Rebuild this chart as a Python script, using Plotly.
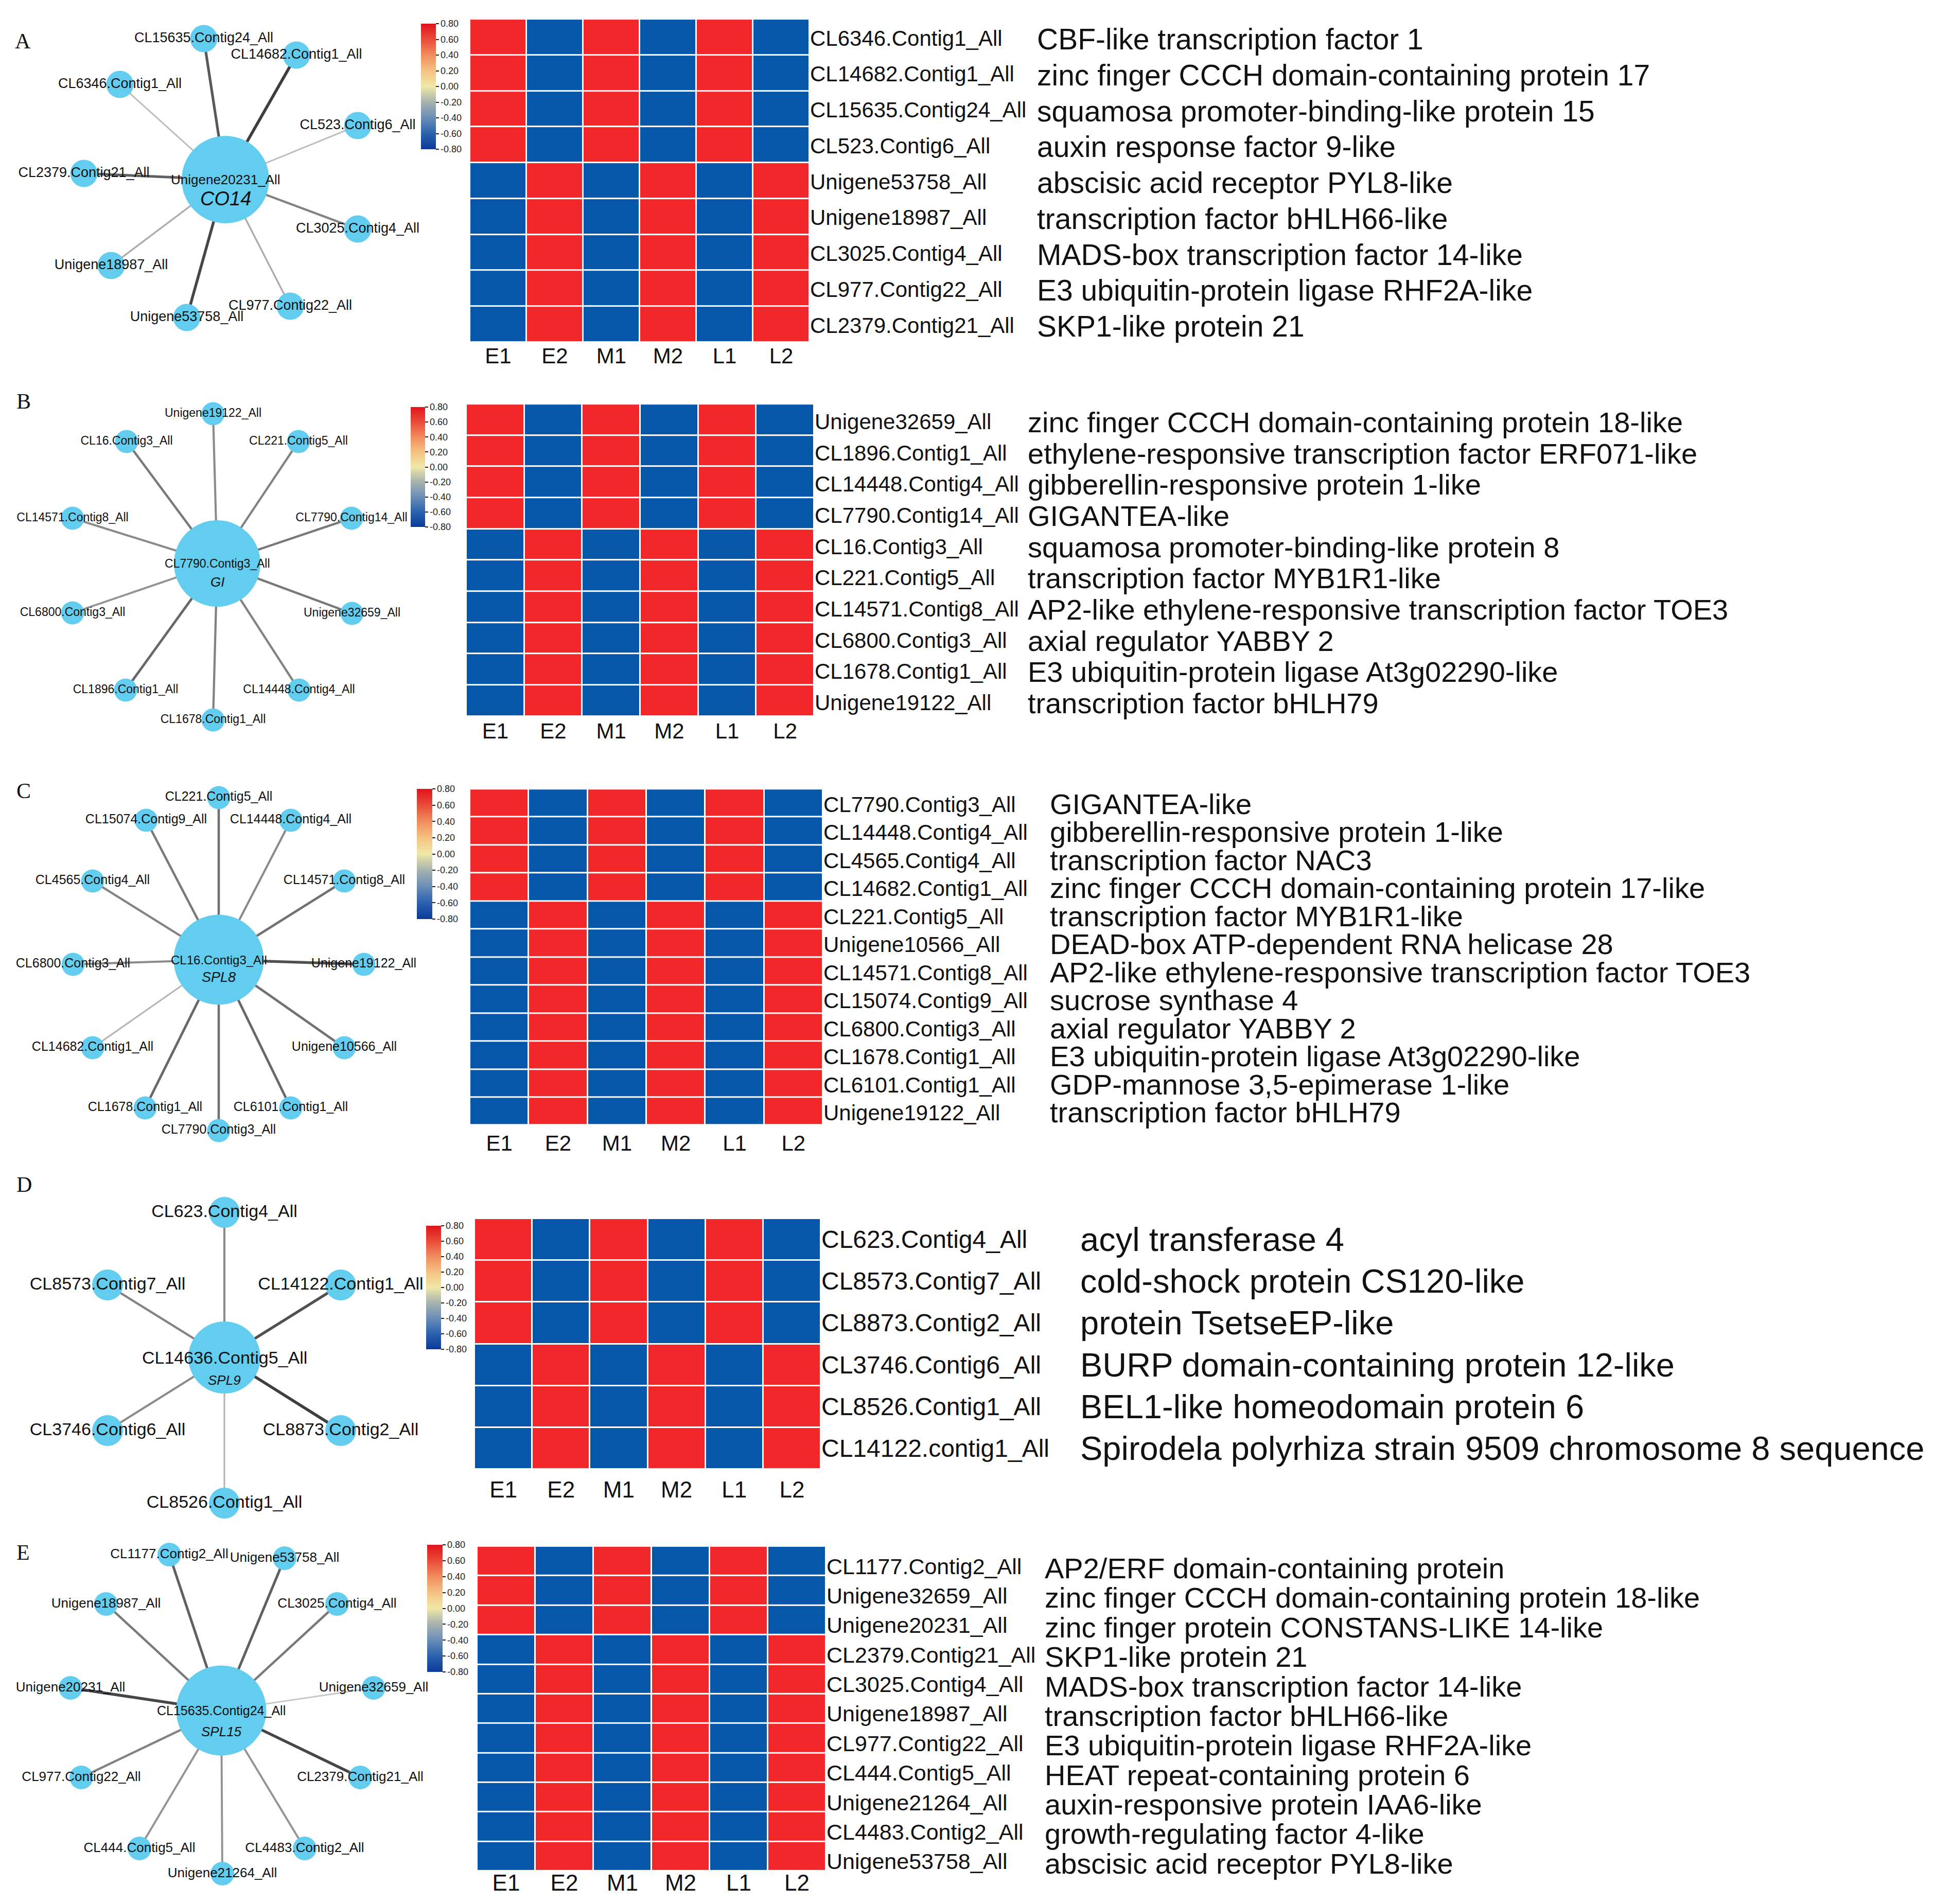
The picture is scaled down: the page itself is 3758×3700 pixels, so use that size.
import plotly.graph_objects as go

W, H = 3758, 3700
STAGES = ["E1", "E2", "M1", "M2", "L1", "L2"]
CB_TICKVALS = [0.8, 0.6, 0.4, 0.2, 0.0, -0.2, -0.4, -0.6, -0.8]
CB_TICKTEXT = ["0.80", "0.60", "0.40", "0.20", "0.00", "-0.20", "-0.40", "-0.60", "-0.80"]

# ---------------- Panel A (CO14) ----------------
A_GENES = ["CL6346.Contig1_All", "CL14682.Contig1_All", "CL15635.Contig24_All", "CL523.Contig6_All",
           "Unigene53758_All", "Unigene18987_All", "CL3025.Contig4_All", "CL977.Contig22_All",
           "CL2379.Contig21_All"]
A_DESC = ["CBF-like transcription factor 1", "zinc finger CCCH domain-containing protein 17",
          "squamosa promoter-binding-like protein 15", "auxin response factor 9-like",
          "abscisic acid receptor PYL8-like", "transcription factor bHLH66-like",
          "MADS-box transcription factor 14-like", "E3 ubiquitin-protein ligase RHF2A-like",
          "SKP1-like protein 21"]
A_Z = [[0.8, -0.8, 0.8, -0.8, 0.8, -0.8],
       [0.8, -0.8, 0.8, -0.8, 0.8, -0.8],
       [0.8, -0.8, 0.8, -0.8, 0.8, -0.8],
       [0.8, -0.8, 0.8, -0.8, 0.8, -0.8],
       [-0.8, 0.8, -0.8, 0.8, -0.8, 0.8],
       [-0.8, 0.8, -0.8, 0.8, -0.8, 0.8],
       [-0.8, 0.8, -0.8, 0.8, -0.8, 0.8],
       [-0.8, 0.8, -0.8, 0.8, -0.8, 0.8],
       [-0.8, 0.8, -0.8, 0.8, -0.8, 0.8]]
A_HUB_ID = "Unigene20231_All"
A_HUB_NAME = "CO14"
A_LEAVES = ["CL15635.Contig24_All", "CL14682.Contig1_All", "CL6346.Contig1_All", "CL523.Contig6_All",
            "CL2379.Contig21_All", "CL3025.Contig4_All", "Unigene18987_All", "CL977.Contig22_All",
            "Unigene53758_All"]
A_LEAF_DX = [-42, 138, -205, 257, -275, 257, -222, 126, -75]
A_LEAF_DY = [-274, -242, -185, -105, -12, 96, 167, 246, 268]
A_EDGE_W = [0.75, 0.9, 0.15, 0.15, 0.7, 0.5, 0.25, 0.25, 0.85]

# ---------------- Panel B (GI) ----------------
B_GENES = ["Unigene32659_All", "CL1896.Contig1_All", "CL14448.Contig4_All", "CL7790.Contig14_All",
           "CL16.Contig3_All", "CL221.Contig5_All", "CL14571.Contig8_All", "CL6800.Contig3_All",
           "CL1678.Contig1_All", "Unigene19122_All"]
B_DESC = ["zinc finger CCCH domain-containing protein 18-like",
          "ethylene-responsive transcription factor ERF071-like",
          "gibberellin-responsive protein 1-like", "GIGANTEA-like",
          "squamosa promoter-binding-like protein 8", "transcription factor MYB1R1-like",
          "AP2-like ethylene-responsive transcription factor TOE3", "axial regulator YABBY 2",
          "E3 ubiquitin-protein ligase At3g02290-like", "transcription factor bHLH79"]
B_Z = [[0.8, -0.8, 0.8, -0.8, 0.8, -0.8],
       [0.8, -0.8, 0.8, -0.8, 0.8, -0.8],
       [0.8, -0.8, 0.8, -0.8, 0.8, -0.8],
       [0.8, -0.8, 0.8, -0.8, 0.8, -0.8],
       [-0.8, 0.8, -0.8, 0.8, -0.8, 0.8],
       [-0.8, 0.8, -0.8, 0.8, -0.8, 0.8],
       [-0.8, 0.8, -0.8, 0.8, -0.8, 0.8],
       [-0.8, 0.8, -0.8, 0.8, -0.8, 0.8],
       [-0.8, 0.8, -0.8, 0.8, -0.8, 0.8],
       [-0.8, 0.8, -0.8, 0.8, -0.8, 0.8]]
B_HUB_ID = "CL7790.Contig3_All"
B_HUB_NAME = "GI"
B_LEAVES = ["Unigene19122_All", "CL16.Contig3_All", "CL221.Contig5_All", "CL14571.Contig8_All",
            "CL7790.Contig14_All", "CL6800.Contig3_All", "Unigene32659_All", "CL1896.Contig1_All",
            "CL14448.Contig4_All", "CL1678.Contig1_All"]
B_LEAF_DX = [-8, -176, 158, -281, 261, -281, 262, -178, 159, -8]
B_LEAF_DY = [-291, -237, -237, -88, -88, 96, 97, 246, 246, 304]
B_EDGE_W = [0.45, 0.55, 0.5, 0.45, 0.55, 0.4, 0.55, 0.65, 0.5, 0.5]

# ---------------- Panel C (SPL8) ----------------
C_GENES = ["CL7790.Contig3_All", "CL14448.Contig4_All", "CL4565.Contig4_All", "CL14682.Contig1_All",
           "CL221.Contig5_All", "Unigene10566_All", "CL14571.Contig8_All", "CL15074.Contig9_All",
           "CL6800.Contig3_All", "CL1678.Contig1_All", "CL6101.Contig1_All", "Unigene19122_All"]
C_DESC = ["GIGANTEA-like", "gibberellin-responsive protein 1-like", "transcription factor NAC3",
          "zinc finger CCCH domain-containing protein 17-like", "transcription factor MYB1R1-like",
          "DEAD-box ATP-dependent RNA helicase 28",
          "AP2-like ethylene-responsive transcription factor TOE3", "sucrose synthase 4",
          "axial regulator YABBY 2", "E3 ubiquitin-protein ligase At3g02290-like",
          "GDP-mannose 3,5-epimerase 1-like", "transcription factor bHLH79"]
C_Z = [[0.8, -0.8, 0.8, -0.8, 0.8, -0.8],
       [0.8, -0.8, 0.8, -0.8, 0.8, -0.8],
       [0.8, -0.8, 0.8, -0.8, 0.8, -0.8],
       [0.8, -0.8, 0.8, -0.8, 0.8, -0.8],
       [-0.8, 0.8, -0.8, 0.8, -0.8, 0.8],
       [-0.8, 0.8, -0.8, 0.8, -0.8, 0.8],
       [-0.8, 0.8, -0.8, 0.8, -0.8, 0.8],
       [-0.8, 0.8, -0.8, 0.8, -0.8, 0.8],
       [-0.8, 0.8, -0.8, 0.8, -0.8, 0.8],
       [-0.8, 0.8, -0.8, 0.8, -0.8, 0.8],
       [-0.8, 0.8, -0.8, 0.8, -0.8, 0.8],
       [-0.8, 0.8, -0.8, 0.8, -0.8, 0.8]]
C_HUB_ID = "CL16.Contig3_All"
C_HUB_NAME = "SPL8"
C_LEAVES = ["CL221.Contig5_All", "CL15074.Contig9_All", "CL14448.Contig4_All", "CL4565.Contig4_All",
            "CL14571.Contig8_All", "CL6800.Contig3_All", "Unigene19122_All", "CL14682.Contig1_All",
            "Unigene10566_All", "CL1678.Contig1_All", "CL6101.Contig1_All", "CL7790.Contig3_All"]
C_LEAF_DX = [0, -141, 140, -245, 244, -283, 282, -245, 244, -143, 140, 0]
C_LEAF_DY = [-315, -271, -271, -153, -153, 9, 9, 171, 171, 288, 288, 332]
C_EDGE_W = [0.6, 0.55, 0.45, 0.5, 0.6, 0.45, 0.8, 0.2, 0.6, 0.65, 0.65, 0.6]

# ---------------- Panel D (SPL9) ----------------
D_GENES = ["CL623.Contig4_All", "CL8573.Contig7_All", "CL8873.Contig2_All", "CL3746.Contig6_All",
           "CL8526.Contig1_All", "CL14122.contig1_All"]
D_DESC = ["acyl transferase 4", "cold-shock protein CS120-like", "protein TsetseEP-like",
          "BURP domain-containing protein 12-like", "BEL1-like homeodomain protein 6",
          "Spirodela polyrhiza strain 9509 chromosome 8 sequence"]
D_Z = [[0.8, -0.8, 0.8, -0.8, 0.8, -0.8],
       [0.8, -0.8, 0.8, -0.8, 0.8, -0.8],
       [0.8, -0.8, 0.8, -0.8, 0.8, -0.8],
       [-0.8, 0.8, -0.8, 0.8, -0.8, 0.8],
       [-0.8, 0.8, -0.8, 0.8, -0.8, 0.8],
       [-0.8, 0.8, -0.8, 0.8, -0.8, 0.8]]
D_HUB_ID = "CL14636.Contig5_All"
D_HUB_NAME = "SPL9"
D_LEAVES = ["CL623.Contig4_All", "CL8573.Contig7_All", "CL14122.Contig1_All", "CL3746.Contig6_All",
            "CL8873.Contig2_All", "CL8526.Contig1_All"]
D_LEAF_DX = [0, -227, 226, -227, 226, 0]
D_LEAF_DY = [-282, -141, -141, 142, 142, 283]
D_EDGE_W = [0.45, 0.5, 0.8, 0.45, 0.9, 0.2]

# ---------------- Panel E (SPL15) ----------------
E_GENES = ["CL1177.Contig2_All", "Unigene32659_All", "Unigene20231_All", "CL2379.Contig21_All",
           "CL3025.Contig4_All", "Unigene18987_All", "CL977.Contig22_All", "CL444.Contig5_All",
           "Unigene21264_All", "CL4483.Contig2_All", "Unigene53758_All"]
E_DESC = ["AP2/ERF domain-containing protein", "zinc finger CCCH domain-containing protein 18-like",
          "zinc finger protein CONSTANS-LIKE 14-like", "SKP1-like protein 21",
          "MADS-box transcription factor 14-like", "transcription factor bHLH66-like",
          "E3 ubiquitin-protein ligase RHF2A-like", "HEAT repeat-containing protein 6",
          "auxin-responsive protein IAA6-like", "growth-regulating factor 4-like",
          "abscisic acid receptor PYL8-like"]
E_Z = [[0.8, -0.8, 0.8, -0.8, 0.8, -0.8],
       [0.8, -0.8, 0.8, -0.8, 0.8, -0.8],
       [0.8, -0.8, 0.8, -0.8, 0.8, -0.8],
       [-0.8, 0.8, -0.8, 0.8, -0.8, 0.8],
       [-0.8, 0.8, -0.8, 0.8, -0.8, 0.8],
       [-0.8, 0.8, -0.8, 0.8, -0.8, 0.8],
       [-0.8, 0.8, -0.8, 0.8, -0.8, 0.8],
       [-0.8, 0.8, -0.8, 0.8, -0.8, 0.8],
       [-0.8, 0.8, -0.8, 0.8, -0.8, 0.8],
       [-0.8, 0.8, -0.8, 0.8, -0.8, 0.8],
       [-0.8, 0.8, -0.8, 0.8, -0.8, 0.8]]
E_HUB_ID = "CL15635.Contig24_All"
E_HUB_NAME = "SPL15"
E_LEAVES = ["CL1177.Contig2_All", "Unigene53758_All", "Unigene18987_All", "CL3025.Contig4_All",
            "Unigene20231_All", "Unigene32659_All", "CL977.Contig22_All", "CL2379.Contig21_All",
            "CL444.Contig5_All", "CL4483.Contig2_All", "Unigene21264_All"]
E_LEAF_DX = [-101, 123, -224, 225, -293, 296, -272, 270, -159, 162, 2]
E_LEAF_DY = [-303, -296, -207, -207, -44, -44, 130, 130, 268, 268, 317]
E_EDGE_W = [0.7, 0.7, 0.55, 0.55, 0.85, 0.1, 0.5, 0.85, 0.4, 0.4, 0.4]

# ---------------- styles / placement (pixels) ----------------
FONT = "Liberation Sans, Arial, sans-serif"
SERIF = "Liberation Serif, Times New Roman, serif"
NODE_COLOR = "#62cdef"
HEAT_SCALE = [[0, "#0656a9"], [0.5, "#0656a9"], [0.5, "#f2272a"], [1, "#f2272a"]]
BAR_SCALE = [[0.0, "#0b3a99"], [0.125, "#2a62ad"], [0.25, "#6a8db8"], [0.375, "#a6b2ae"],
             [0.5, "#efe8a8"], [0.625, "#f5c283"], [0.75, "#f08d5e"], [0.875, "#ea4b39"],
             [1.0, "#e0141c"]]

PANELS = [
    dict(letter="A", genes=A_GENES, desc=A_DESC, z=A_Z, hub_id=A_HUB_ID, hub_name=A_HUB_NAME,
         leaves=A_LEAVES, dx=A_LEAF_DX, dy=A_LEAF_DY, ew=A_EDGE_W,
         letter_xy=(36, 72), hub=(430, 341), hub_size=170, leaf_size=53, leaf_font=27,
         hub_font=26, name_font=38, name_dy=37, cb=(810, 38, 29, 244),
         hm=(905, 26, 1565, 657), id_font=42, id_dy=-2, desc_x=2005, desc_font=57, desc_dy=-4,
         col_font=42, col_standoff=-2),
    dict(letter="B", genes=B_GENES, desc=B_DESC, z=B_Z, hub_id=B_HUB_ID, hub_name=B_HUB_NAME,
         leaves=B_LEAVES, dx=B_LEAF_DX, dy=B_LEAF_DY, ew=B_EDGE_W,
         letter_xy=(38, 772), hub=(414, 1087), hub_size=168, leaf_size=45, leaf_font=23,
         hub_font=23, name_font=26, name_dy=36, cb=(790, 783, 28, 233),
         hm=(898, 769, 1574, 1384), id_font=42, id_dy=-4, desc_x=1987, desc_font=56, desc_dy=-5,
         col_font=42, col_standoff=0),
    dict(letter="C", genes=C_GENES, desc=C_DESC, z=C_Z, hub_id=C_HUB_ID, hub_name=C_HUB_NAME,
         leaves=C_LEAVES, dx=C_LEAF_DX, dy=C_LEAF_DY, ew=C_EDGE_W,
         letter_xy=(38, 1529), hub=(417, 1857), hub_size=175, leaf_size=45, leaf_font=25,
         hub_font=24, name_font=27, name_dy=34, cb=(802, 1525, 30, 253),
         hm=(905, 1517, 1591, 2183), id_font=42, id_dy=-3, desc_x=2030, desc_font=56, desc_dy=-2,
         col_font=42, col_standoff=2),
    dict(letter="D", genes=D_GENES, desc=D_DESC, z=D_Z, hub_id=D_HUB_ID, hub_name=D_HUB_NAME,
         leaves=D_LEAVES, dx=D_LEAF_DX, dy=D_LEAF_DY, ew=D_EDGE_W,
         letter_xy=(39, 2294), hub=(428, 2630), hub_size=140, leaf_size=60, leaf_font=34,
         hub_font=34, name_font=26, name_dy=44, cb=(820, 2374, 29, 240),
         hm=(914, 2360, 1587, 2847), id_font=48, id_dy=0, desc_x=2089, desc_font=65, desc_dy=0,
         col_font=44, col_standoff=10),
    dict(letter="E", genes=E_GENES, desc=E_DESC, z=E_Z, hub_id=E_HUB_ID, hub_name=E_HUB_NAME,
         leaves=E_LEAVES, dx=E_LEAF_DX, dy=E_LEAF_DY, ew=E_EDGE_W,
         letter_xy=(37, 3009), hub=(422, 3316), hub_size=175, leaf_size=46, leaf_font=26,
         hub_font=25, name_font=26, name_dy=41, cb=(822, 2994, 30, 247),
         hm=(919, 2978, 1597, 3628), id_font=43, id_dy=-10, desc_x=2020, desc_font=56, desc_dy=-14,
         col_font=44, col_standoff=-7),
]


def edge_style(w):
    g = int(round(215 - 170 * w))
    return "rgb(%d,%d,%d)" % (g, g, g), 2.5 + 3.5 * w


fig = go.Figure()
annotations = []
layout_axes = {}

# full-page axis for networks (pixel coordinates)
layout_axes["xaxis"] = dict(domain=[0, 1], range=[0, W], visible=False, fixedrange=True)
layout_axes["yaxis"] = dict(domain=[0, 1], range=[H, 0], visible=False, fixedrange=True)

for i, p in enumerate(PANELS):
    hx, hy = p["hub"]
    # edges
    for name, dx, dy, w in zip(p["leaves"], p["dx"], p["dy"], p["ew"]):
        col, lw = edge_style(w)
        fig.add_trace(go.Scatter(x=[hx, hx + dx], y=[hy, hy + dy], mode="lines",
                                 line=dict(color=col, width=lw), hoverinfo="skip",
                                 showlegend=False, xaxis="x", yaxis="y"))
    # hub node
    fig.add_trace(go.Scatter(x=[hx], y=[hy], mode="markers",
                             marker=dict(size=p["hub_size"], color=NODE_COLOR, line=dict(width=0)),
                             hoverinfo="skip", showlegend=False, xaxis="x", yaxis="y"))
    # leaf nodes with labels
    fig.add_trace(go.Scatter(x=[hx + d for d in p["dx"]], y=[hy + d for d in p["dy"]],
                             mode="markers+text", text=p["leaves"], textposition="middle center",
                             textfont=dict(family=FONT, size=p["leaf_font"], color="#111"),
                             marker=dict(size=p["leaf_size"], color=NODE_COLOR, line=dict(width=0)),
                             hoverinfo="skip", showlegend=False, xaxis="x", yaxis="y"))
    annotations.append(dict(x=hx, y=hy, xref="x", yref="y", text=p["hub_id"], showarrow=False,
                            font=dict(family=FONT, size=p["hub_font"], color="#111"),
                            xanchor="center", yanchor="middle"))
    annotations.append(dict(x=hx, y=hy + p["name_dy"], xref="x", yref="y",
                            text="<i>%s</i>" % p["hub_name"], showarrow=False,
                            font=dict(family=FONT, size=p["name_font"], color="#111"),
                            xanchor="center", yanchor="middle"))
    # panel letter
    lx, ly = p["letter_xy"]
    annotations.append(dict(x=lx / W, y=1 - ly / H, xref="paper", yref="paper", text=p["letter"],
                            showarrow=False, font=dict(family=SERIF, size=42, color="#111"),
                            xanchor="center", yanchor="middle"))

    # heatmap
    k = i + 2
    xa, ya = "x%d" % k, "y%d" % k
    x0, y0, x1, y1 = p["hm"]
    layout_axes["xaxis%d" % k] = dict(domain=[x0 / W, x1 / W], anchor=ya, type="category",
                                      categoryorder="array", categoryarray=STAGES,
                                      showgrid=False, zeroline=False, showline=False, ticks="",
                                      tickfont=dict(family=FONT, size=p["col_font"], color="#111"),
                                      ticklabelstandoff=p["col_standoff"], fixedrange=True)
    layout_axes["yaxis%d" % k] = dict(domain=[1 - y1 / H, 1 - y0 / H], anchor=xa, type="category",
                                      categoryorder="array", categoryarray=p["genes"],
                                      autorange="reversed", showgrid=False, zeroline=False,
                                      showticklabels=False, ticks="", fixedrange=True)
    fig.add_trace(go.Heatmap(z=p["z"], x=STAGES, y=p["genes"], colorscale=HEAT_SCALE,
                             zmin=-0.8, zmax=0.8, showscale=False, xgap=3, ygap=3,
                             hoverinfo="skip", xaxis=xa, yaxis=ya))
    for g, d in zip(p["genes"], p["desc"]):
        annotations.append(dict(x=1, y=g, xref="%s domain" % xa, yref=ya, text=g, showarrow=False,
                                xanchor="left", yanchor="middle", xshift=-1, yshift=p["id_dy"],
                                font=dict(family=FONT, size=p["id_font"], color="#111")))
        annotations.append(dict(x=p["desc_x"] / W, y=g, xref="paper", yref=ya, text=d,
                                showarrow=False, xanchor="left", yanchor="middle",
                                yshift=p["desc_dy"],
                                font=dict(family=FONT, size=p["desc_font"], color="#111")))

    # colour bar
    cx, cy, cw, ch = p["cb"]
    fig.add_trace(go.Scatter(x=[hx, hx], y=[hy, hy], mode="markers", hoverinfo="skip",
                             showlegend=False, xaxis="x", yaxis="y",
                             marker=dict(size=1, opacity=0, color=[-0.8, 0.8], cmin=-0.8, cmax=0.8,
                                         colorscale=BAR_SCALE, showscale=True,
                                         colorbar=dict(x=cx / W, xanchor="left", xpad=0,
                                                       y=1 - cy / H, yanchor="top", ypad=0,
                                                       len=ch, lenmode="pixels", thickness=cw,
                                                       outlinewidth=0, ticks="outside", ticklen=6,
                                                       tickwidth=2, tickcolor="#222",
                                                       tickvals=CB_TICKVALS, ticktext=CB_TICKTEXT,
                                                       tickfont=dict(family=FONT, size=18,
                                                                     color="#222")))))

fig.update_layout(width=W, height=H, margin=dict(l=0, r=0, t=0, b=0), paper_bgcolor="white",
                  plot_bgcolor="rgba(0,0,0,0)", showlegend=False, annotations=annotations,
                  **layout_axes)

fig.write_html("out.html")
